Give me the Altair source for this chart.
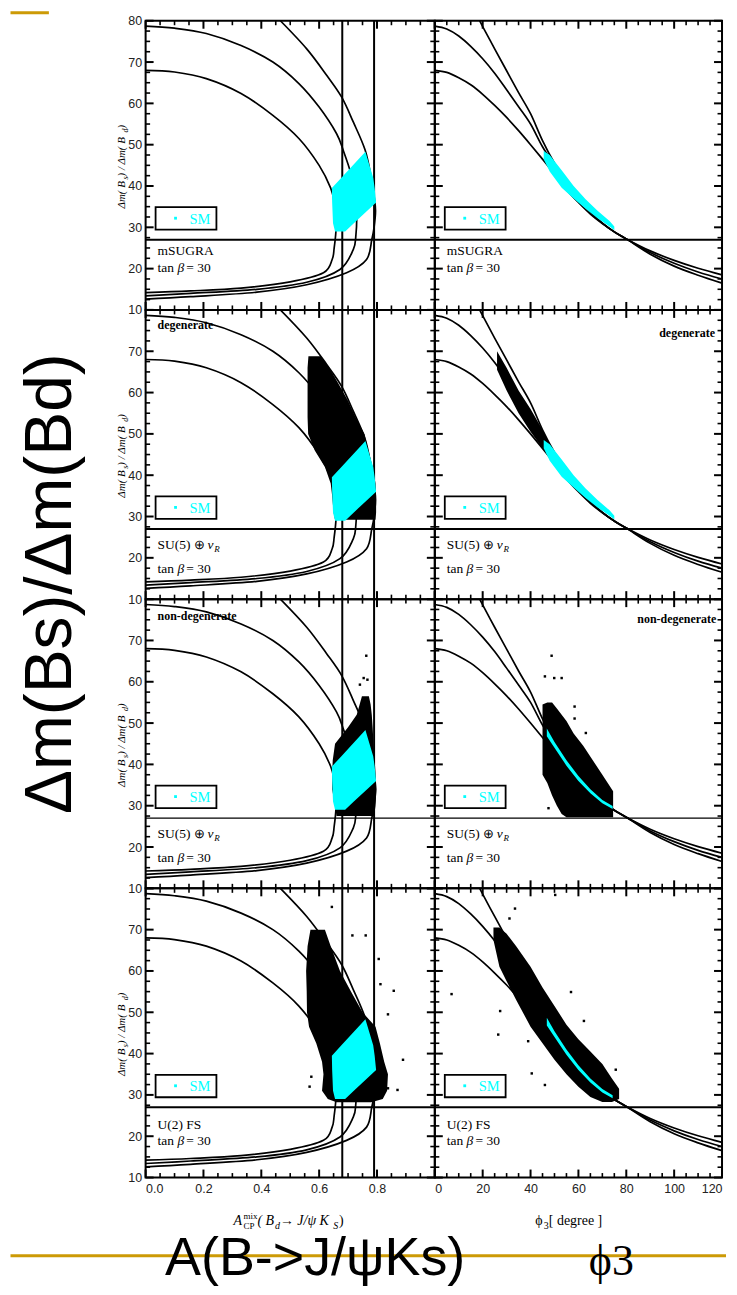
import altair as alt
import pandas as pd

# ---------------- values ----------------
# left column: A_CP^mix(Bd -> J/psi Ks)  vs  dm(Bs)/dm(Bd), three reference curves
L_INNER_A = [0.000, 0.100, 0.210, 0.330, 0.440, 0.530, 0.600, 0.640, 0.652, 0.658, 0.658, 0.652, 0.645, 0.615, 0.500, 0.330, 0.155, 0.000]
L_INNER_R = [68.0, 67.6, 66.0, 62.4, 57.1, 51.5, 45.0, 39.5, 36.0, 32.0, 29.0, 25.0, 22.2, 19.0, 16.8, 15.3, 14.6, 14.2]
L_MID_A = [0.000, 0.100, 0.210, 0.330, 0.440, 0.530, 0.600, 0.660, 0.685, 0.710, 0.725, 0.730, 0.727, 0.718, 0.672, 0.557, 0.385, 0.155, 0.000]
L_MID_R = [78.7, 78.2, 76.9, 74.0, 70.0, 64.8, 59.1, 52.7, 48.3, 43.0, 38.0, 33.0, 28.0, 24.6, 19.8, 16.7, 15.0, 14.0, 13.4]
L_OUT_A = [0.466, 0.557, 0.626, 0.678, 0.718, 0.759, 0.780, 0.790, 0.795, 0.790, 0.782, 0.764, 0.695, 0.557, 0.385, 0.155, 0.000]
L_OUT_R = [80.0, 73.2, 66.8, 61.5, 55.5, 48.7, 42.0, 37.5, 34.0, 30.0, 27.0, 22.2, 19.0, 16.1, 14.3, 13.2, 12.6]

# right column: phi3 [degree] vs dm(Bs)/dm(Bd)
R_PHI = [0, 5, 10, 15, 20, 25, 30, 35, 40, 45, 50, 55, 60, 65, 70, 75, 80, 90, 100, 110, 120]
R_INNER = [68.0, 67.5, 66.2, 64.5, 62.2, 59.5, 56.6, 53.4, 50.0, 46.5, 42.9, 39.1, 36.0, 33.2, 30.9, 28.9, 27.2, 24.3, 22.0, 20.1, 18.5]
R_MID = [78.7, 78.0, 76.3, 73.8, 70.8, 67.3, 63.3, 59.2, 55.0, 49.5, 45.0, 40.8, 36.9, 33.6, 31.0, 28.9, 27.2, 23.9, 21.3, 19.2, 17.5]
R_OUT_PHI = [18.5, 20, 25, 30, 35, 40, 45, 50, 55, 60, 65, 70, 75, 80, 90, 100, 110, 120]
R_OUT = [80.3, 78.6, 73.2, 67.9, 62.6, 57.5, 51.0, 45.5, 41.0, 37.0, 33.7, 31.0, 28.9, 27.2, 23.5, 20.6, 18.4, 16.5]

# experimental bounds
VLINES = [0.68, 0.79]
HLINE = 27

# SM region (cyan), left panels: for each ratio, A range
SM_L_Y = [29.0, 31.0, 36.0, 39.5, 42.0, 48.3]
SM_L_X1 = [0.655, 0.648, 0.645, 0.644, 0.677, 0.760]
SM_L_X2 = [0.690, 0.720, 0.797, 0.792, 0.787, 0.760]
# SM region, right panels (rows 1-2): for each phi3, ratio range
SM_R_P = [45.5, 48, 53, 58, 63, 68, 73, 75]
SM_R_Y1 = [46.5, 43.5, 39.6, 37.0, 34.5, 32.2, 30.2, 29.3]
SM_R_Y2 = [48.5, 47.5, 43.8, 40.0, 36.8, 34.0, 31.5, 30.2]
# SM strip visible in rows 3-4 (right)
SM_T_P = [46.8, 50, 55, 60, 65, 70, 74.3]
SM_T_Y1 = [46.8, 44.0, 39.7, 36.0, 33.0, 30.6, 29.2]
SM_T_Y2 = [48.7, 45.4, 41.0, 37.2, 34.0, 31.4, 29.9]

# SUSY scan regions (black)
B2L_Y = [29.2, 31, 35, 38, 42, 46, 50, 54, 58, 62, 66, 68.8]
B2L_X1 = [0.655, 0.650, 0.645, 0.640, 0.620, 0.585, 0.562, 0.560, 0.560, 0.560, 0.560, 0.563]
B2L_X2 = [0.795, 0.797, 0.797, 0.795, 0.785, 0.770, 0.757, 0.726, 0.700, 0.668, 0.635, 0.605]
B2R_P = [26, 30, 35, 40, 45, 48]
B2R_Y1 = [65.5, 60.5, 55.0, 50.5, 46.5, 44.5]
B2R_Y2 = [70.0, 66.0, 60.5, 56.0, 51.0, 47.5]

B3L_Y = [27.5, 30, 34, 38, 41, 45, 49, 52, 54.5, 56.5]
B3L_X1 = [0.660, 0.655, 0.645, 0.645, 0.647, 0.655, 0.700, 0.730, 0.740, 0.748]
B3L_X2 = [0.790, 0.795, 0.798, 0.795, 0.792, 0.788, 0.785, 0.782, 0.778, 0.772]
B3R_P = [45, 47, 49, 51, 53, 55, 58, 62, 66, 70, 74.5]
B3R_Y1 = [37.5, 35.5, 32.5, 30.0, 28.0, 27.2, 27.2, 27.2, 27.2, 27.2, 27.2]
B3R_Y2 = [54.5, 55.0, 55.0, 53.5, 52.0, 50.5, 47.5, 44.5, 41.0, 37.5, 33.5]
O3L_X = [0.763, 0.754, 0.767, 0.741]
O3L_Y = [66.3, 60.9, 60.5, 59.3]
O3R_P = [48.8, 46.0, 49.9, 53.0, 58.4, 63.1, 58.4, 47.5, 53.8]
O3R_Y = [66.3, 61.3, 60.9, 60.9, 54.0, 47.6, 51.1, 29.4, 30.4]

B4L_Y = [28.2, 29, 31, 35, 38, 42.5, 46.5, 50, 55, 60, 66, 70]
B4L_X1 = [0.660, 0.630, 0.610, 0.615, 0.610, 0.590, 0.565, 0.558, 0.557, 0.555, 0.560, 0.570]
B4L_X2 = [0.780, 0.820, 0.835, 0.838, 0.825, 0.810, 0.795, 0.750, 0.710, 0.672, 0.640, 0.620]
B4R_P = [24.5, 27, 30, 34, 40, 45, 50, 55, 60, 65, 70, 74, 77]
B4R_Y1 = [67.5, 61.0, 57.5, 53.0, 46.5, 42.5, 38.5, 35.0, 32.0, 29.5, 28.3, 28.3, 29.0]
B4R_Y2 = [70.5, 70.5, 69.0, 66.0, 61.0, 56.0, 51.5, 47.0, 43.5, 40.5, 37.5, 34.0, 31.5]
O4L_X = [0.644, 0.715, 0.761, 0.806, 0.812, 0.858, 0.838, 0.890, 0.871, 0.838, 0.573, 0.567]
O4L_Y = [75.5, 68.6, 68.6, 62.9, 56.8, 55.2, 49.5, 38.5, 31.2, 31.6, 34.4, 32.0]
O4R_P = [50.3, 33.5, 31.2, 7.0, 56.9, 27.3, 26.5, 62.3, 40.5, 46.0, 75.6, 39.0]
O4R_Y = [78.4, 75.1, 72.7, 54.4, 54.9, 50.3, 44.6, 47.9, 35.2, 32.4, 36.1, 43.0]

# axis ticks / labels
Y_MAJOR = [10, 20, 30, 40, 50, 60, 70, 80]
Y_MINOR = [v / 2 for v in range(25, 160, 5) if (v / 2) % 10 != 0]
XL_MAJOR = [0.0, 0.2, 0.4, 0.6, 0.8, 1.0]
XL_MINOR = [round(i * 0.05, 2) for i in range(1, 20) if i % 4]
XR_MAJOR = [0, 20, 40, 60, 80, 100, 120]
XR_MINOR = [v for v in range(5, 120, 5) if v % 20]
XL_LABELS = [0.0, 0.2, 0.4, 0.6, 0.8]
XR_LABELS = XR_MAJOR

ROW_TAG = [None, "degenerate", "non-degenerate", None]
HLINE_W = [2.0, 2.0, 1.2, 2.0]

# ---------------- styling ----------------
CYAN = "#00FFFF"
GOLD = "#CC9A06"
SANS = "Liberation Sans"
SERIF = "Liberation Serif"
LW, RW, PH = 290, 288, 290
Y_DOM = [10, 80]
ONE = pd.DataFrame({"k": [0]})

W_TIMES = {' ': .25, '(': .333, ')': .333, '/': .278, '[': .333, ']': .333, '=': .564,
           'A': .722, 'B': .667, 'C': .667, 'F': .556, 'G': .722, 'J': .389, 'K': .722,
           'M': .889, 'P': .556, 'R': .667, 'S': .556, 'U': .722, 'a': .444, 'd': .5,
           'e': .444, 'g': .5, 'i': .278, 'm': .778, 'n': .5, 'r': .333, 's': .389,
           't': .278, 'x': .5, 'o': .5, '-': .333, 'β': .66, 'ν': .5, 'ϕ': .62,
           'Δ': .61, 'ψ': .69, '→': 1.0, '⊕': .77}


def tw(t, size):
    return size * sum(W_TIMES.get(c, .5) for c in t)


def seg(t, size, dy=0, style="normal", adv=True):
    return dict(t=t, size=size, dy=dy, style=style, adv=adv)


def rich(segs, x, y, anchor="start", angle=0, weight="normal", color="black"):
    total = sum(tw(s["t"], s["size"]) for s in segs if s["adv"])
    pos = 0 if anchor == "start" else (-total / 2 if anchor == "middle" else -total)
    out = []
    for s in segs:
        if angle == 0:
            px, py = x + pos, y + s["dy"]
        else:
            px, py = x + s["dy"], y - pos
        out.append(alt.Chart(ONE).mark_text(
            text=s["t"], align="left", baseline="alphabetic", angle=angle,
            font=SERIF, fontSize=s["size"], fontStyle=s["style"],
            fontWeight=weight, color=color).encode(x=alt.value(px), y=alt.value(py)))
        if s["adv"]:
            pos += tw(s["t"], s["size"])
    return out


def long_df(groups):
    rows = []
    for name, xs, ys in groups:
        for i, (a, b) in enumerate(zip(xs, ys)):
            rows.append({"c": name, "i": i, "x": a, "y": b})
    return pd.DataFrame(rows)


LEFT_CURVES = long_df([("in", L_INNER_A, L_INNER_R), ("mid", L_MID_A, L_MID_R), ("out", L_OUT_A, L_OUT_R)])
RIGHT_CURVES = long_df([("in", R_PHI, R_INNER), ("mid", R_PHI, R_MID), ("out", R_OUT_PHI, R_OUT)])

LEFT_BLOBS = {1: (B2L_Y, B2L_X1, B2L_X2), 2: (B3L_Y, B3L_X1, B3L_X2), 3: (B4L_Y, B4L_X1, B4L_X2)}
RIGHT_BLOBS = {1: (B2R_P, B2R_Y1, B2R_Y2), 2: (B3R_P, B3R_Y1, B3R_Y2), 3: (B4R_P, B4R_Y1, B4R_Y2)}
LEFT_OUT = {2: (O3L_X, O3L_Y), 3: (O4L_X, O4L_Y)}
RIGHT_OUT = {2: (O3R_P, O3R_Y), 3: (O4R_P, O4R_Y)}


def panel(r, side):
    W = LW if side == "L" else RW
    dom = [0, 1.0] if side == "L" else [0, 120]
    lab = dict(title=None, ticks=False, domain=False, grid=False, labelFont=SANS,
               labelFontSize=12.5, labelColor="#222222")
    yaxis = alt.Axis(values=(Y_MAJOR if r == 0 else Y_MAJOR[:-1]), labelPadding=4, **lab) if side == "L" else None
    if r == 3:
        if side == "L":
            xaxis = alt.Axis(values=XL_LABELS, format=".1f", labelPadding=5, **lab)
        else:
            xaxis = alt.Axis(values=XR_LABELS, format="d", labelPadding=5, labelFlush=True, **lab)
    else:
        xaxis = None

    def X(f):
        return alt.X(f"{f}:Q", scale=alt.Scale(domain=dom, nice=False, zero=False), axis=xaxis)

    def Y(f):
        return alt.Y(f"{f}:Q", scale=alt.Scale(domain=Y_DOM, nice=False, zero=False), axis=yaxis)

    L = []
    L.append(alt.Chart(pd.DataFrame({"v": [HLINE]})).mark_rule(color="black", strokeWidth=HLINE_W[r]).encode(y=Y("v")))
    if side == "L":
        L.append(alt.Chart(pd.DataFrame({"v": VLINES})).mark_rule(color="black", strokeWidth=2).encode(x=X("v")))
    curves = LEFT_CURVES if side == "L" else RIGHT_CURVES
    L.append(alt.Chart(curves).mark_line(color="black", strokeWidth=1.7, interpolate="cardinal", clip=True)
             .encode(x=X("x"), y=Y("y"), detail="c:N", order="i:Q"))
    # black scan regions
    if side == "L" and r in LEFT_BLOBS:
        ys, x1, x2 = LEFT_BLOBS[r]
        L.append(alt.Chart(pd.DataFrame({"y": ys, "x1": x1, "x2": x2})).mark_area(orient="horizontal", color="black")
                 .encode(y=Y("y"), x=X("x1"), x2="x2:Q"))
    if side == "R" and r in RIGHT_BLOBS:
        ps, y1, y2 = RIGHT_BLOBS[r]
        L.append(alt.Chart(pd.DataFrame({"p": ps, "y1": y1, "y2": y2})).mark_area(color="black")
                 .encode(x=X("p"), y=Y("y1"), y2="y2:Q"))
    # SM region
    if side == "L":
        L.append(alt.Chart(pd.DataFrame({"y": SM_L_Y, "x1": SM_L_X1, "x2": SM_L_X2})).mark_area(orient="horizontal", color=CYAN)
                 .encode(y=Y("y"), x=X("x1"), x2="x2:Q"))
    else:
        if r < 2:
            sp, s1, s2 = SM_R_P, SM_R_Y1, SM_R_Y2
        else:
            sp, s1, s2 = SM_T_P, SM_T_Y1, SM_T_Y2
        L.append(alt.Chart(pd.DataFrame({"p": sp, "y1": s1, "y2": s2})).mark_area(color=CYAN)
                 .encode(x=X("p"), y=Y("y1"), y2="y2:Q"))
    outs = LEFT_OUT if side == "L" else RIGHT_OUT
    if r in outs:
        ox, oy = outs[r]
        L.append(alt.Chart(pd.DataFrame({"x": ox, "y": oy})).mark_square(size=6, color="black", opacity=1)
                 .encode(x=X("x"), y=Y("y")))
    # inward ticks on all four sides (tick length converted from pixels to data units)
    xmaj = XL_MAJOR if side == "L" else XR_MAJOR
    xmin = XL_MINOR if side == "L" else XR_MINOR
    ux = (dom[1] - dom[0]) / W
    uy = (Y_DOM[1] - Y_DOM[0]) / PH
    for vals, ln, sw in ((Y_MAJOR, 8, 2.0), (Y_MINOR, 4.5, 1.6)):
        rows = []
        for v in vals:
            rows.append({"v": v, "a": dom[0], "b": dom[0] + ln * ux})
            rows.append({"v": v, "a": dom[1] - ln * ux, "b": dom[1]})
        L.append(alt.Chart(pd.DataFrame(rows)).mark_rule(color="black", strokeWidth=sw)
                 .encode(y=Y("v"), x=X("a"), x2="b:Q"))
    for vals, ln, sw in ((xmaj, 8, 2.0), (xmin, 4.5, 1.6)):
        rows = []
        for v in vals:
            rows.append({"v": v, "a": Y_DOM[0], "b": Y_DOM[0] + ln * uy})
            rows.append({"v": v, "a": Y_DOM[1] - ln * uy, "b": Y_DOM[1]})
        L.append(alt.Chart(pd.DataFrame(rows)).mark_rule(color="black", strokeWidth=sw)
                 .encode(x=X("v"), y=Y("a"), y2="b:Q"))
    # SM legend box
    L.append(alt.Chart(ONE).mark_rect(fill="white", stroke="black", strokeWidth=1.8)
             .encode(x=alt.value(10), x2=alt.value(71), y=alt.value(187), y2=alt.value(209.5)))
    L.append(alt.Chart(ONE).mark_square(size=8, color=CYAN, opacity=1).encode(x=alt.value(30), y=alt.value(198)))
    L.append(alt.Chart(ONE).mark_text(text="SM", font=SERIF, fontSize=14.5, color=CYAN, align="left", baseline="alphabetic")
             .encode(x=alt.value(44), y=alt.value(203.5)))
    # model labels
    tanb = [seg("tan ", 13.5), seg("β", 13.5, style="italic"), seg(" = 30", 13.5)]
    if r == 0:
        L += rich([seg("mSUGRA", 13.5)], 12, 235)
        L += rich(tanb, 12, 252)
    elif r in (1, 2):
        L += rich([seg("SU(5) ⊕ ", 13.5), seg("ν", 13.5, style="italic"), seg("R", 9, dy=3, style="italic")], 12, 240)
        L += rich(tanb, 12, 264)
    else:
        L += rich([seg("U(2) FS", 13.5)], 12, 241)
        L += rich(tanb, 12, 257)
    tag = ROW_TAG[r]
    if tag:
        if side == "L":
            L += rich([seg(tag, 12)], 12, 19 if r == 1 else 21, weight="bold")
        else:
            L += rich([seg(tag, 12)], 277, 27 if r == 1 else 24, anchor="end", weight="bold")
    # axis titles
    if side == "L":
        L += rich([seg("Δm( B", 11, style="italic"), seg("s", 8, dy=3, style="italic"),
                   seg(" ) / Δm( B", 11, style="italic"), seg("d", 8, dy=3, style="italic"),
                   seg(" )", 11, style="italic")], -21, 145, anchor="middle", angle=270)
    if r == 3 and side == "L":
        L += rich([seg("A", 14, style="italic"), seg("CP", 9, dy=4, adv=False), seg("mix", 9, dy=-6),
                   seg("( B", 14, style="italic"), seg("d", 10, dy=4, style="italic"),
                   seg(" → J/ψ K", 14, style="italic"), seg("S", 10, dy=4, style="italic"),
                   seg(" )", 14)], 145, 338, anchor="middle")
    if r == 3 and side == "R":
        L += rich([seg("ϕ", 14), seg("3", 10, dy=4), seg(" [ degree ]", 14)], 136, 338, anchor="middle")
    # slide decorations
    if r == 0 and side == "L":
        L.append(alt.Chart(ONE).mark_rule(color=GOLD, strokeWidth=3)
                 .encode(x=alt.value(-135.5), x2=alt.value(-97), y=alt.value(-8)))
    if r == 1 and side == "L":
        L.append(alt.Chart(ONE).mark_text(text="Δm(Bs)/Δm(Bd)", font=SANS, fontSize=66, angle=270,
                                          align="center", baseline="alphabetic", color="black")
                 .encode(x=alt.value(-75), y=alt.value(274.5)))
    if r == 3 and side == "L":
        L.append(alt.Chart(ONE).mark_rule(color=GOLD, strokeWidth=3)
                 .encode(x=alt.value(-135.5), x2=alt.value(582), y=alt.value(368.5)))
        L.append(alt.Chart(ONE).mark_text(text="A(B->J/ψKs)", font=SANS, fontSize=54, align="center",
                                          baseline="alphabetic", color="black")
                 .encode(x=alt.value(170), y=alt.value(387.5)))
    if r == 3 and side == "R":
        L.append(alt.Chart(ONE).mark_text(text="ϕ3", font=SERIF, fontSize=44, align="center",
                                          baseline="alphabetic", color="black")
                 .encode(x=alt.value(177), y=alt.value(387.5)))
    return alt.layer(*L).properties(width=W, height=PH)


charts = []
for r in range(4):
    for side in ("L", "R"):
        charts.append(panel(r, side))

chart = (alt.concat(*charts, columns=2, spacing=0, bounds="flush")
         .resolve_scale(x="independent", y="independent")
         .resolve_axis(x="independent", y="independent")
         .properties(padding={"left": 0, "top": 0, "right": 0, "bottom": 0}, background="white")
         .configure_view(stroke="black", strokeWidth=2))

chart.save("out.html", embed_options={"renderer": "svg", "actions": False})
